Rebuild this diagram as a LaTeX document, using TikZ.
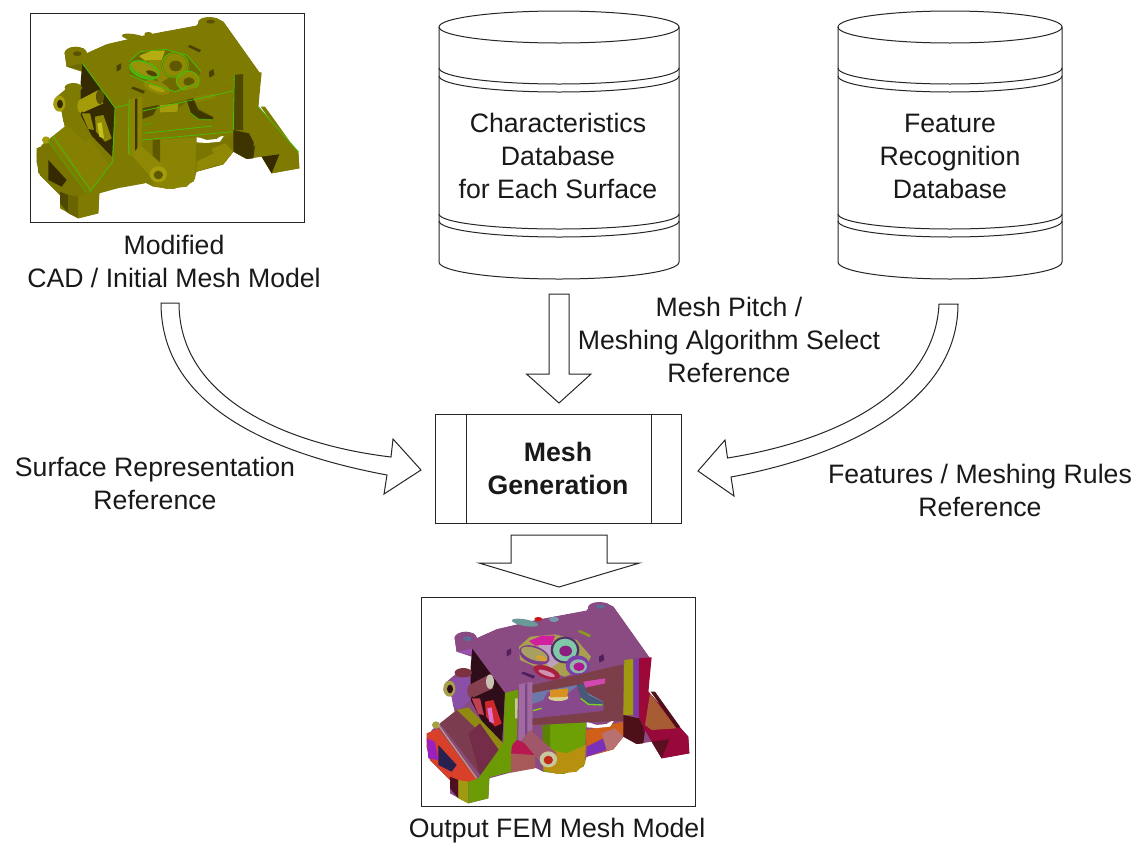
\documentclass[tikz,border=0pt]{standalone}
\usepackage{fontspec}
\setmainfont{Liberation Sans}
\usetikzlibrary{calc}
\newcommand{\halfell}[4]{(#1,#3) .. controls ({#1},{#3+.5523*#4}) and ({(#1+#2)/2-.5523*(#2-#1)/2},{#3+#4}) .. ({(#1+#2)/2},{#3+#4}) .. controls ({(#1+#2)/2+.5523*(#2-#1)/2},{#3+#4}) and ({#2},{#3+.5523*#4}) .. (#2,#3)}
\newcommand{\dbcyl}[2]{%
  \draw[ol,fill=white] (#1,27) -- (#1,262) \halfell{#1}{#2}{262}{17} -- (#2,27);
  \draw[ol] ({(#1+#2)/2},27) ellipse [x radius={(#2-#1)/2*.75pt},y radius=12pt];
  \draw[ol] \halfell{#1}{#2}{68}{16};
  \draw[ol] \halfell{#1}{#2}{76}{16};
  \draw[ol] \halfell{#1}{#2}{214}{15};
  \draw[ol] \halfell{#1}{#2}{221}{16};
}
% filled ellipse: colour, centre x,y, radii in model units, rotation
\newcommand{\mel}[6]{\fill[#1,rotate around={#6:(#2,#3)}] (#2,#3) ellipse [x radius=#4*.25pt,y radius=#5*.25pt];}
\newcommand{\mer}[6]{\draw[medge,rotate around={#6:(#2,#3)}] (#2,#3) ellipse [x radius=#4*.25pt,y radius=#5*.25pt];}
% shared geometry of the casting, in 1/3 pixel units
\newcommand{\modelbody}{%
  % silhouette
  \fill[cFace] (135,150)--(150,130)--(190,130)--(200,145)--(260,118)--(380,90)--(530,62)--(545,42)--(590,40)--(610,50)--(720,205)--(715,305)--(835,440)--(838,490)--(755,505)--(725,455)--(680,462)--(640,440)--(610,478)--(530,500)--(520,530)--(460,552)--(400,545)--(370,530)--(300,548)--(238,565)--(235,625)--(175,640)--(120,610)--(120,570)--(60,510)--(50,470)--(65,420)--(90,400)--(135,370)--(125,320)--(100,300)--(110,275)--(140,250)--(185,240)--(185,200)--(140,185)--cycle;
  % lug sides
  \fill[cLug] (135,150)--(140,185)--(185,195)--(190,165)--cycle;
  % left opening
  \fill[cDark] (187,175)--(285,308)--(275,478)--(230,420)--(182,330)--(182,230)--cycle;
  % left boss
  \fill[cBoss] (125,265)--(180,260)--(182,330)--(145,360)--(130,350)--(125,320)--cycle;
  \mel{cBossTop}{160}{248}{26}{14}{0}
  \mel{cBossEnd}{118}{296}{18}{24}{0}
  \mel{cDark}{120}{297}{9}{13}{0}
  % cylinder and boxes in opening
  \fill[cBox2] (185,325)--(210,325)--(222,375)--(205,372)--cycle;
  \fill[cBox] (225,335)--(250,330)--(275,400)--(255,410)--(228,380)--cycle;
  \fill[cBoxIn] (232,355)--(245,352)--(252,400)--(238,395)--cycle;
  \fill[cTube] (178,285)--(235,255)--(250,295)--(190,322)--cycle;
  \mel{cTube}{182}{303}{10}{20}{0}
  \mel{cTubeEnd}{240}{275}{12}{22}{0}
  % flange
  \fill[cFlange] (50,470)--(85,460)--(140,525)--(180,578)--(145,590)--(120,570)--(60,510)--cycle;
  \fill[cFlange] (50,430)--(85,415)--(200,570)--(180,578)--(145,555)--(125,545)--(140,530)--(85,460)--(75,470)--(50,470)--cycle;
  \fill[cSlot] (85,465)--(140,525)--(125,545)--(85,525)--cycle;
  \fill[cFlL] (50,445)--(75,455)--(85,510)--(55,505)--cycle;
  \mel{cBossEnd}{78}{405}{12}{11}{0}
  % ramp
  \fill[cRampE] (140,360)--(175,352)--(280,460)--(270,485)--cycle;
  \fill[cRamp] (90,400)--(140,360)--(270,485)--(210,555)--cycle;
  \fill[cRampD] (175,430)--(210,400)--(270,485)--(210,555)--cycle;
  \draw[cStripe,line width=.9pt] (85,405)--(200,565);
  \draw[medge] (100,395)--(213,558);
  % foot
  \fill[cFootD] (120,560)--(145,570)--(145,625)--(120,595)--cycle;
  \fill[cFootB] (145,570)--(175,575)--(175,640)--(145,625)--cycle;
  % left vertical green face
  \fill[cLeft] (285,308)--(325,295)--(320,450)--(305,470)--(303,545)--(238,562)--(235,625)--(175,640)--(175,575)--(205,565)--(280,460)--cycle;
  \fill[cCream] (315,325)--(323,325)--(322,385)--(315,385)--cycle;
  \draw[medge] (285,308)--(278,470)--(208,562);
  % box below left face
  \fill[cBoxA] (303,490)--(375,495)--(375,535)--(303,548)--cycle;
  \fill[cBoxB] (307,465)--(320,450)--(345,460)--(375,495)--(303,490)--cycle;
  % column
  \fill[cCol] (398,405)--(528,395)--(525,520)--(520,530)--(460,552)--(400,545)--cycle;
  \fill[cColLow] (398,475)--(470,490)--(527,465)--(525,520)--(500,545)--(440,552)--(400,540)--cycle;
  \fill[cColD] (398,405)--(420,403)--(420,480)--(398,475)--cycle;
  % lower right parts
  \fill[cLow] (528,420)--(640,395)--(640,440)--(610,478)--(530,500)--cycle;
  \fill[cLow2] (530,470)--(580,445)--(590,480)--(530,500)--cycle;
  \fill[cLow3] (575,430)--(615,415)--(640,440)--(610,478)--(590,480)--cycle;
  \fill[white] (530,395)--(560,405)--(590,402)--(618,383)--(600,410)--(560,414)--(530,412)--cycle;
  % top plate
  \fill[cTop] (135,150)--(150,130)--(190,130)--(200,145)--(260,118)--(380,90)--(530,62)--(545,42)--(590,40)--(610,50)--(720,205)--(285,308)--(187,175)--(140,185)--cycle;
  \draw[medge] (285,308)--(720,205);
  \draw[medge] (187,175)--(285,308);
  \mel{cTop}{167}{145}{34}{20}{0}
  \mel{cTop}{568}{52}{34}{16}{0}
  \mel{cLugH}{172}{146}{13}{7}{0}
  \mel{cLugH}{572}{50}{13}{6}{0}
  \mel{cBumpA}{345}{98}{40}{10}{-10}
  \mel{cBumpB}{432}{88}{15}{8}{0}
  \mel{cBumpC}{385}{87}{12}{6}{0}
  % slots in top plate
  \fill[cSlotA] (290,182)--(303,175)--(303,192)--(290,200)--cycle;
  \fill[cSlotA] (333,250)--(340,245)--(375,258)--(370,266)--cycle;
  \fill[cSlotB] (503,125)--(510,120)--(543,135)--(538,142)--cycle;
  \fill[cSlotA] (567,200)--(580,192)--(583,210)--(568,218)--cycle;
  % crater
  \fill[cCrater] (327,170)--(360,140)--(435,133)--(500,150)--(543,200)--(525,235)--(465,260)--(395,238)--(330,210)--cycle;
  \fill[cBowl] (357,153)--(395,137)--(435,137)--(425,165)--(375,167)--cycle;
  \fill[cBowl2] (385,165)--(425,165)--(450,215)--(420,235)--(400,205)--cycle;
  \mel{cPetEdge}{373}{195}{48}{26}{-20}
  \mel{cPet}{373}{192}{42}{18}{-20}
  \mel{cDeep}{395}{205}{18}{7}{-20}
  \mel{cPet2}{410}{247}{42}{18}{-20}
  \mel{cPetIn}{410}{250}{26}{7}{-20}
  \mel{cRingD}{465}{180}{43}{40}{0}
  \mel{cRing}{465}{180}{36}{34}{0}
  \mel{cHole}{467}{183}{19}{16}{0}
  \mel{cRing2}{503}{227}{36}{31}{0}
  \mel{cRing2b}{505}{229}{26}{21}{0}
  \mel{cHole2}{507}{230}{17}{13}{0}
  \mer{x}{465}{180}{40}{37}{0}
  \mer{x}{503}{227}{34}{29}{0}
  \mer{x}{373}{195}{46}{24}{-20}
  \draw[medge] (327,170)--(360,140)--(435,133)--(500,150)--(543,200);
  \draw[medge] (330,210)--(395,238)--(465,260)--(525,235);
  % front band and window
  \fill[cBar] (325,295)--(640,223)--(640,392)--(365,405)--(345,450)--cycle;
  \fill[cWin] (365,310)--(500,285)--(535,310)--(580,335)--(580,360)--(365,385)--cycle;
  \fill[cPlate] (365,340)--(410,305)--(475,310)--(500,290)--(525,320)--(580,345)--(578,363)--(368,385)--cycle;
  \fill[cArmL] (367,310)--(415,300)--(400,330)--(367,342)--cycle;
  \mel{cBase}{445}{323}{30}{10}{0}
  \fill[cPost] (420,300)--(475,295)--(472,320)--(420,322)--cycle;
  \fill[cStrip] (520,275)--(585,265)--(585,280)--(525,293)--cycle;
  \fill[cArm] (500,285)--(520,280)--(535,315)--(580,337)--(575,345)--(535,343)--(515,330)--cycle;
  \draw[cRim,line width=1pt] (512,325)--(535,343)--(578,345);
  \draw[cRim,line width=1pt] (368,362)--(395,355);
  \draw[medge] (368,318)--(640,258);
  \draw[medge] (368,385)--(578,363);
  \draw[medge] (365,405)--(640,380);
  % ribs
  \fill[cRib] (327,283)--(367,275)--(367,420)--(345,455)--(325,450)--cycle;
  \fill[cRibD] (345,282)--(352,280)--(352,435)--(345,445)--cycle;
  \fill[cRib2] (643,210)--(670,207)--(670,375)--(640,375)--cycle;
  \fill[cRib3] (670,207)--(687,205)--(687,385)--(670,375)--cycle;
  \fill[cRight] (687,205)--(725,202)--(715,305)--(705,420)--(687,385)--cycle;
  \fill[cGapD] (640,375)--(687,385)--(705,420)--(700,460)--(680,462)--(640,440)--cycle;
  \draw[medge] (327,283)--(325,450);
  \draw[medge] (643,210)--(640,375);
  % tube
  \fill[cTube2] (335,450)--(360,420)--(440,490)--(400,525)--cycle;
  \mel{cRingB}{415}{508}{26}{24}{0}
  \mel{cHoleB}{415}{510}{14}{13}{0}
  % right wing
  \fill[cWing] (715,305)--(835,440)--(838,490)--(755,505)--(725,455)--(705,420)--(700,425)--cycle;
  \fill[cWingIn] (720,310)--(800,415)--(725,420)--(705,405)--cycle;
  \fill[cWingE] (722,305)--(735,305)--(810,410)--(800,415)--cycle;
  \fill[cWingD] (725,455)--(778,448)--(755,505)--cycle;
  \draw[medge] (715,305)--(835,440);
}
\tikzset{ol/.style={draw=black!85,line width=.75pt},
  txt/.style={font=\fontsize{20}{24.75}\selectfont,align=center,inner sep=0pt,text=black!90},
  pic frame/.style={draw=black!85,line width=.75pt,fill=white},
  blockarrow/.style={draw=black!85,line width=.75pt,fill=white,line join=miter,miter limit=8}}
\begin{document}
\begin{tikzpicture}[x=.75pt,y=-.75pt]
\useasboundingbox (0,0) rectangle (1141,843);
\fill[white] (0,0) rectangle (1141,843);
% picture frames
\draw[pic frame] (30,13) rectangle (304,222);
\draw[pic frame] (421,597) rectangle (695,806);
% olive model
\begin{scope}[shift={(20,5)},x=.25pt,y=-.25pt,
  medge/.style={draw={rgb,255:red,70;green,190;blue,10},line width=.6pt}]
  \definecolor{cFace}{HTML}{7F7A02}\colorlet{cTop}{cFace}\definecolor{cLug}{HTML}{6E6A00}
  \definecolor{cDark}{HTML}{352A00}\colorlet{cBoss}{cFace}\colorlet{cBossTop}{cFace}
  \definecolor{cBossEnd}{HTML}{A49C0A}\definecolor{cTube}{HTML}{A39B08}
  \definecolor{cTubeEnd}{HTML}{5A5200}\definecolor{cBox}{HTML}{8E8804}\colorlet{cBox2}{cBox}
  \definecolor{cBoxIn}{HTML}{C4C020}\definecolor{cRamp}{HTML}{857F02}\colorlet{cRampD}{cRamp}\colorlet{cRampE}{cFace}
  \definecolor{cFlange}{HTML}{7A7500}\definecolor{cSlot}{HTML}{352A00}\colorlet{cFlL}{cFlange}
  \definecolor{cStripe}{HTML}{5A9A00}
  \definecolor{cFootD}{HTML}{4E4800}\definecolor{cFootB}{HTML}{6A6500}\colorlet{cLeft}{cFace}\colorlet{cCream}{cFace}
  \colorlet{cBoxA}{cFace}\colorlet{cBoxB}{cFace}
  \definecolor{cSlotA}{HTML}{4A4200}\colorlet{cSlotB}{cSlotA}
  \colorlet{cBumpA}{cFace}\colorlet{cBumpB}{cFace}\colorlet{cBumpC}{cFace}\definecolor{cLugH}{HTML}{5A5200}
  \definecolor{cCrater}{HTML}{6E6A00}\definecolor{cBowl}{HTML}{B4AC10}\definecolor{cBowl2}{HTML}{8E8804}
  \definecolor{cPetEdge}{HTML}{4CB010}\definecolor{cPet}{HTML}{98920A}\definecolor{cDeep}{HTML}{4E4600}
  \definecolor{cPet2}{HTML}{8E8804}\definecolor{cPetIn}{HTML}{A89F0A}
  \definecolor{cRingD}{HTML}{7A7500}\definecolor{cRing}{HTML}{8E8A04}
  \definecolor{cHole}{HTML}{5E5800}\colorlet{cRing2}{cRing}\colorlet{cRing2b}{cRing}\colorlet{cHole2}{cHole}
  \colorlet{cBar}{cFace}
  \definecolor{cWin}{HTML}{6E6800}\colorlet{cPlate}{cFace}\definecolor{cArmL}{HTML}{4E4600}\colorlet{cBase}{cFace}
  \definecolor{cPost}{HTML}{A49C0A}\definecolor{cStrip}{HTML}{888204}
  \definecolor{cArm}{HTML}{3E3600}\definecolor{cRim}{HTML}{5A9A00}\definecolor{cRib}{HTML}{8A8404}
  \definecolor{cRibD}{HTML}{3E3600}\definecolor{cRib2}{HTML}{4E4800}\colorlet{cRib3}{cFace}
  \colorlet{cRight}{cFace}\definecolor{cLow}{HTML}{7A7500}
  \definecolor{cLow2}{HTML}{8E8804}\definecolor{cLow3}{HTML}{8E8804}\definecolor{cGapD}{HTML}{3E3400}
  \definecolor{cCol}{HTML}{8A8404}\colorlet{cColLow}{cCol}
  \definecolor{cColD}{HTML}{5E5800}\definecolor{cTube2}{HTML}{8E8804}
  \definecolor{cRingB}{HTML}{A49C0A}\definecolor{cHoleB}{HTML}{5E5800}
  \colorlet{cWing}{cFace}\colorlet{cWingIn}{cFace}\colorlet{cWingE}{cFace}\definecolor{cWingD}{HTML}{352A00}
  \modelbody
\end{scope}
% coloured mesh model
\begin{scope}[shift={(410,590)},x=.25pt,y=-.25pt,
  medge/.style={draw=none}]
  \definecolor{cFace}{HTML}{8A4A82}\colorlet{cTop}{cFace}\definecolor{cLug}{HTML}{9A50B0}
  \definecolor{cDark}{HTML}{2E0C18}\definecolor{cBoss}{HTML}{8A50A8}\definecolor{cBossTop}{HTML}{7C3040}
  \definecolor{cBossEnd}{HTML}{A8A048}\definecolor{cTube}{HTML}{84404E}
  \definecolor{cTubeEnd}{HTML}{C8C0B0}\definecolor{cBox}{HTML}{D02828}\definecolor{cBox2}{HTML}{C04050}
  \definecolor{cBoxIn}{HTML}{E070D0}\definecolor{cRamp}{HTML}{7C3C50}\definecolor{cRampD}{HTML}{742C48}\definecolor{cRampE}{HTML}{908A10}
  \definecolor{cFlange}{HTML}{D8402A}\definecolor{cSlot}{HTML}{28204E}\definecolor{cFlL}{HTML}{9A20C0}
  \definecolor{cStripe}{HTML}{C0A070}
  \definecolor{cFootD}{HTML}{4E1020}\definecolor{cFootB}{HTML}{A09A10}\definecolor{cLeft}{HTML}{6C9A04}\definecolor{cCream}{HTML}{C8C8A0}
  \definecolor{cBoxA}{HTML}{A85A58}\definecolor{cBoxB}{HTML}{B81850}
  \definecolor{cSlotA}{HTML}{50205E}\definecolor{cSlotB}{HTML}{8A9A20}
  \definecolor{cBumpA}{HTML}{6A9A98}\definecolor{cBumpB}{HTML}{7898B0}\definecolor{cBumpC}{HTML}{C81818}\definecolor{cLugH}{HTML}{5A7098}
  \definecolor{cCrater}{HTML}{A8A050}\definecolor{cBowl}{HTML}{D020A0}\definecolor{cBowl2}{HTML}{C0A0C0}
  \definecolor{cPetEdge}{HTML}{7A3A90}\definecolor{cPet}{HTML}{A8A060}\definecolor{cDeep}{HTML}{D8A030}
  \definecolor{cPet2}{HTML}{A82040}\definecolor{cPetIn}{HTML}{D090B0}
  \definecolor{cRingD}{HTML}{50306A}\definecolor{cRing}{HTML}{80C8A8}
  \definecolor{cHole}{HTML}{8A2080}\definecolor{cRing2}{HTML}{7A40A8}\definecolor{cRing2b}{HTML}{90B8A8}\definecolor{cHole2}{HTML}{B01890}
  \definecolor{cBar}{HTML}{7C3E48}
  \definecolor{cWin}{HTML}{6C78A8}\definecolor{cPlate}{HTML}{88488C}\definecolor{cArmL}{HTML}{6C78A8}\definecolor{cBase}{HTML}{D8D090}
  \definecolor{cPost}{HTML}{D89020}\definecolor{cStrip}{HTML}{D048B0}
  \definecolor{cArm}{HTML}{485878}\definecolor{cRim}{HTML}{80D020}\definecolor{cRib}{HTML}{A06AA0}
  \definecolor{cRibD}{HTML}{7A4488}\definecolor{cRib2}{HTML}{A09A10}\definecolor{cRib3}{HTML}{7A3AA0}
  \definecolor{cRight}{HTML}{9C0838}\definecolor{cLow}{HTML}{D06018}
  \definecolor{cLow2}{HTML}{7A30B8}\definecolor{cLow3}{HTML}{B87070}\definecolor{cGapD}{HTML}{4E1018}
  \definecolor{cCol}{HTML}{6CA004}\definecolor{cColLow}{HTML}{B89010}
  \definecolor{cColD}{HTML}{5A8004}\definecolor{cTube2}{HTML}{A05868}
  \definecolor{cRingB}{HTML}{C8C8A0}\definecolor{cHoleB}{HTML}{C02818}
  \definecolor{cWing}{HTML}{98083A}\definecolor{cWingIn}{HTML}{A85C34}\definecolor{cWingE}{HTML}{4E1018}
  \definecolor{cWingD}{HTML}{5A1020}
  \modelbody
\end{scope}
% databases
\dbcyl{439}{679}
\dbcyl{838}{1062}
% process box
\draw[ol,fill=white] (435,414) rectangle (681.5,523);
\draw[ol] (466.5,414) -- (466.5,523);
\draw[ol] (651,414) -- (651,523);
% block arrows
\draw[blockarrow] (549,294) -- (569,294) -- (569,374) -- (591,374) -- (559,403) -- (526.5,374) -- (549,374) -- cycle;
\draw[blockarrow] (511,535) -- (607,535) -- (607,563) -- (639.5,563) -- (559,587) -- (479,563) -- (511,563) -- cycle;
\draw[blockarrow] (161,303) -- (179,303) .. controls (179,400) and (290,445) .. (391,457) -- (393,439) -- (421,470) -- (384,494) -- (387,475) .. controls (280,455) and (161,410) .. (161,303) -- cycle;
\draw[blockarrow] (939,304) -- (958,304) .. controls (958,400) and (850,455) .. (731,477) -- (734,496) -- (698,471) -- (725,440) -- (727.5,458) .. controls (840,440) and (935,390) .. (939,304) -- cycle;
% labels
\node[txt] (lcad) at (174,261) {Modified\\CAD / Initial Mesh Model};
\node[txt] (lchar) at (558,156) {Characteristics\\Database\\for Each Surface};
\node[txt] (lfeat) at (950,156) {Feature\\Recognition\\Database};
\node[txt] (lpitch) at (729,340) {Mesh Pitch /\\Meshing Algorithm Select\\Reference};
\node[txt] (lsurf) at (155,483) {Surface Representation\\Reference};
\node[txt] (lrules) at (980,490) {Features / Meshing Rules\\Reference};
\node[txt,font=\fontsize{20}{24.75}\selectfont\bfseries] (lmesh) at (558,468) {Mesh\\Generation};
\node[txt] (lout) at (557,831) {Output FEM Mesh Model};
\end{tikzpicture}
\end{document}
